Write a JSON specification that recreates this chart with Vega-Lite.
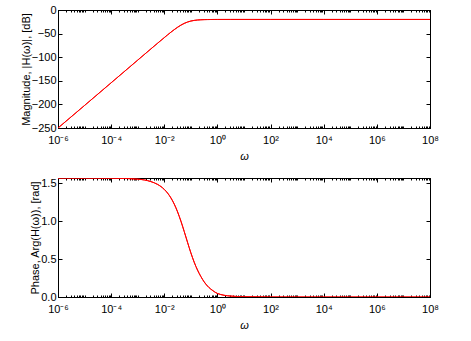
{
  "$schema": "https://vega.github.io/schema/vega-lite/v6.json",
  "padding": {"left": 19, "top": 3, "right": 5, "bottom": 5},
  "background": "white",
  "config": {
    "view": {"stroke": "black", "strokeWidth": 1},
    "font": "Liberation Sans",
    "axis": {"domainColor": "black", "tickColor": "black", "labelColor": "black", "titleColor": "black", "grid": false, "labelFont": "Liberation Sans", "titleFont": "Liberation Sans", "labelFontSize": 11, "titleFontSize": 11, "titleFontWeight": "normal"}
  },
  "datasets": {
    "bode": [
      {"omega": 1e-6, "mag": -250, "phase": 1.5708},
      {"omega": 1e-5, "mag": -202.2, "phase": 1.5706},
      {"omega": 1e-4, "mag": -154.2, "phase": 1.5693},
      {"omega": 1e-3, "mag": -106.2, "phase": 1.5556},
      {"omega": 0.0031623, "mag": -82.2, "phase": 1.5229},
      {"omega": 0.0056234, "mag": -70.3, "phase": 1.4858},
      {"omega": 0.01, "mag": -58.5, "phase": 1.4204},
      {"omega": 0.013335, "mag": -52.7, "phase": 1.3714},
      {"omega": 0.017783, "mag": -47.0, "phase": 1.3077},
      {"omega": 0.023714, "mag": -41.6, "phase": 1.2258},
      {"omega": 0.031623, "mag": -36.6, "phase": 1.1238},
      {"omega": 0.04217, "mag": -32.1, "phase": 1.002},
      {"omega": 0.056234, "mag": -28.4, "phase": 0.865},
      {"omega": 0.07499, "mag": -25.5, "phase": 0.7215},
      {"omega": 0.1, "mag": -23.4, "phase": 0.5829},
      {"omega": 0.13335, "mag": -22.07, "phase": 0.4596},
      {"omega": 0.17783, "mag": -21.2, "phase": 0.3556},
      {"omega": 0.23714, "mag": -20.7, "phase": 0.2714},
      {"omega": 0.31623, "mag": -20.4, "phase": 0.2},
      {"omega": 0.4217, "mag": -20.23, "phase": 0.145},
      {"omega": 0.56234, "mag": -20.13, "phase": 0.104},
      {"omega": 0.74989, "mag": -20.08, "phase": 0.072},
      {"omega": 1, "mag": -20.04, "phase": 0.047},
      {"omega": 3.1623, "mag": -20.0, "phase": 0.012},
      {"omega": 10, "mag": -20.0, "phase": 0.004},
      {"omega": 100, "mag": -20.0, "phase": 0.0004},
      {"omega": 1e4, "mag": -20.0, "phase": 0.0},
      {"omega": 1e6, "mag": -20.0, "phase": 0.0},
      {"omega": 1e8, "mag": -20.0, "phase": 0.0}
    ]
  },
  "spacing": 14,
  "vconcat": [
    {
      "width": 372,
      "height": 118,
      "data": {"name": "bode"},
      "resolve": {"axis": {"x": "independent", "y": "independent"}},
      "layer": [
        {
          "mark": {"type": "line", "color": "#ff0000", "strokeWidth": 1, "clip": true, "interpolate": "monotone"},
          "encoding": {
            "x": {"field": "omega", "type": "quantitative", "scale": {"type": "log", "domain": [1e-6, 1e8], "nice": false},
              "axis": {"orient": "bottom", "title": "ω", "titleFontStyle": "italic", "titlePadding": 3,
                "values": [1e-6,2e-6,3e-6,4e-6,5e-6,6e-6,7e-6,8e-6,9e-6,1e-5,2e-5,3e-5,4e-5,5e-5,6e-5,7e-5,8e-5,9e-5,1e-4,2e-4,3e-4,4e-4,5e-4,6e-4,7e-4,8e-4,9e-4,1e-3,2e-3,3e-3,4e-3,5e-3,6e-3,7e-3,8e-3,9e-3,0.01,0.02,0.03,0.04,0.05,0.06,0.07,0.08,0.09,0.1,0.2,0.3,0.4,0.5,0.6,0.7,0.8,0.9,1,2,3,4,5,6,7,8,9,10,20,30,40,50,60,70,80,90,100,200,300,400,500,600,700,800,900,1e3,2e3,3e3,4e3,5e3,6e3,7e3,8e3,9e3,1e4,2e4,3e4,4e4,5e4,6e4,7e4,8e4,9e4,1e5,2e5,3e5,4e5,5e5,6e5,7e5,8e5,9e5,1e6,2e6,3e6,4e6,5e6,6e6,7e6,8e6,9e6,1e7,2e7,3e7,4e7,5e7,6e7,7e7,8e7,9e7,1e8],
                "labelExpr": "datum.value == 1e-6 ? '10⁻⁶' : datum.value == 1e-4 ? '10⁻⁴' : datum.value == 0.01 ? '10⁻²' : datum.value == 1 ? '10⁰' : datum.value == 100 ? '10²' : datum.value == 1e4 ? '10⁴' : datum.value == 1e6 ? '10⁶' : datum.value == 1e8 ? '10⁸' : ''",
                "labelPadding": 10, "labelFlush": false, "labelOverlap": false,
                "tickSize": {"condition": {"test": "indexof([1e-6,1e-4,0.01,1,100,1e4,1e6,1e8], datum.value) >= 0", "value": -4}, "value": -2}
              }},
            "y": {"field": "mag", "type": "quantitative", "scale": {"domain": [-250, 0], "nice": false},
              "axis": {"orient": "left", "title": "Magnitude, |H(ω)|, [dB]", "values": [-250,-200,-150,-100,-50,0], "tickSize": -4, "labelPadding": 6, "titlePadding": 0}}
          }
        },
        {
          "mark": {"type": "line", "color": "#ff0000", "strokeWidth": 1, "clip": true, "interpolate": "monotone"},
          "encoding": {
            "x": {"field": "omega", "type": "quantitative", "scale": {"type": "log", "domain": [1e-6, 1e8], "nice": false},
              "axis": {"orient": "top", "title": null, "labels": false,
                "values": [1e-6,2e-6,3e-6,4e-6,5e-6,6e-6,7e-6,8e-6,9e-6,1e-5,2e-5,3e-5,4e-5,5e-5,6e-5,7e-5,8e-5,9e-5,1e-4,2e-4,3e-4,4e-4,5e-4,6e-4,7e-4,8e-4,9e-4,1e-3,2e-3,3e-3,4e-3,5e-3,6e-3,7e-3,8e-3,9e-3,0.01,0.02,0.03,0.04,0.05,0.06,0.07,0.08,0.09,0.1,0.2,0.3,0.4,0.5,0.6,0.7,0.8,0.9,1,2,3,4,5,6,7,8,9,10,20,30,40,50,60,70,80,90,100,200,300,400,500,600,700,800,900,1e3,2e3,3e3,4e3,5e3,6e3,7e3,8e3,9e3,1e4,2e4,3e4,4e4,5e4,6e4,7e4,8e4,9e4,1e5,2e5,3e5,4e5,5e5,6e5,7e5,8e5,9e5,1e6,2e6,3e6,4e6,5e6,6e6,7e6,8e6,9e6,1e7,2e7,3e7,4e7,5e7,6e7,7e7,8e7,9e7,1e8],
                "tickSize": {"condition": {"test": "indexof([1e-6,1e-4,0.01,1,100,1e4,1e6,1e8], datum.value) >= 0", "value": -4}, "value": -2}
              }},
            "y": {"field": "mag", "type": "quantitative", "scale": {"domain": [-250, 0], "nice": false},
              "axis": {"orient": "right", "title": null, "labels": false, "values": [-250,-200,-150,-100,-50,0], "tickSize": -4}}
          }
        }
      ]
    },
    {
      "width": 372,
      "height": 119,
      "data": {"name": "bode"},
      "resolve": {"axis": {"x": "independent", "y": "independent"}},
      "layer": [
        {
          "mark": {"type": "line", "color": "#ff0000", "strokeWidth": 1, "clip": true, "interpolate": "monotone"},
          "encoding": {
            "x": {"field": "omega", "type": "quantitative", "scale": {"type": "log", "domain": [1e-6, 1e8], "nice": false},
              "axis": {"orient": "bottom", "title": "ω", "titleFontStyle": "italic", "titlePadding": 3,
                "values": [1e-6,2e-6,3e-6,4e-6,5e-6,6e-6,7e-6,8e-6,9e-6,1e-5,2e-5,3e-5,4e-5,5e-5,6e-5,7e-5,8e-5,9e-5,1e-4,2e-4,3e-4,4e-4,5e-4,6e-4,7e-4,8e-4,9e-4,1e-3,2e-3,3e-3,4e-3,5e-3,6e-3,7e-3,8e-3,9e-3,0.01,0.02,0.03,0.04,0.05,0.06,0.07,0.08,0.09,0.1,0.2,0.3,0.4,0.5,0.6,0.7,0.8,0.9,1,2,3,4,5,6,7,8,9,10,20,30,40,50,60,70,80,90,100,200,300,400,500,600,700,800,900,1e3,2e3,3e3,4e3,5e3,6e3,7e3,8e3,9e3,1e4,2e4,3e4,4e4,5e4,6e4,7e4,8e4,9e4,1e5,2e5,3e5,4e5,5e5,6e5,7e5,8e5,9e5,1e6,2e6,3e6,4e6,5e6,6e6,7e6,8e6,9e6,1e7,2e7,3e7,4e7,5e7,6e7,7e7,8e7,9e7,1e8],
                "labelExpr": "datum.value == 1e-6 ? '10⁻⁶' : datum.value == 1e-4 ? '10⁻⁴' : datum.value == 0.01 ? '10⁻²' : datum.value == 1 ? '10⁰' : datum.value == 100 ? '10²' : datum.value == 1e4 ? '10⁴' : datum.value == 1e6 ? '10⁶' : datum.value == 1e8 ? '10⁸' : ''",
                "labelPadding": 10, "labelFlush": false, "labelOverlap": false,
                "tickSize": {"condition": {"test": "indexof([1e-6,1e-4,0.01,1,100,1e4,1e6,1e8], datum.value) >= 0", "value": -4}, "value": -2}
              }},
            "y": {"field": "phase", "type": "quantitative", "scale": {"domain": [0, 1.5708], "nice": false},
              "axis": {"orient": "left", "title": "Phase, Arg(H(ω)), [rad]", "values": [0, 0.5, 1, 1.5], "tickSize": -4, "labelPadding": 6, "titlePadding": 0}}
          }
        },
        {
          "mark": {"type": "line", "color": "#ff0000", "strokeWidth": 1, "clip": true, "interpolate": "monotone"},
          "encoding": {
            "x": {"field": "omega", "type": "quantitative", "scale": {"type": "log", "domain": [1e-6, 1e8], "nice": false},
              "axis": {"orient": "top", "title": null, "labels": false,
                "values": [1e-6,2e-6,3e-6,4e-6,5e-6,6e-6,7e-6,8e-6,9e-6,1e-5,2e-5,3e-5,4e-5,5e-5,6e-5,7e-5,8e-5,9e-5,1e-4,2e-4,3e-4,4e-4,5e-4,6e-4,7e-4,8e-4,9e-4,1e-3,2e-3,3e-3,4e-3,5e-3,6e-3,7e-3,8e-3,9e-3,0.01,0.02,0.03,0.04,0.05,0.06,0.07,0.08,0.09,0.1,0.2,0.3,0.4,0.5,0.6,0.7,0.8,0.9,1,2,3,4,5,6,7,8,9,10,20,30,40,50,60,70,80,90,100,200,300,400,500,600,700,800,900,1e3,2e3,3e3,4e3,5e3,6e3,7e3,8e3,9e3,1e4,2e4,3e4,4e4,5e4,6e4,7e4,8e4,9e4,1e5,2e5,3e5,4e5,5e5,6e5,7e5,8e5,9e5,1e6,2e6,3e6,4e6,5e6,6e6,7e6,8e6,9e6,1e7,2e7,3e7,4e7,5e7,6e7,7e7,8e7,9e7,1e8],
                "tickSize": {"condition": {"test": "indexof([1e-6,1e-4,0.01,1,100,1e4,1e6,1e8], datum.value) >= 0", "value": -4}, "value": -2}
              }},
            "y": {"field": "phase", "type": "quantitative", "scale": {"domain": [0, 1.5708], "nice": false},
              "axis": {"orient": "right", "title": null, "labels": false, "values": [0, 0.5, 1, 1.5], "tickSize": -4}}
          }
        }
      ]
    }
  ]
}
